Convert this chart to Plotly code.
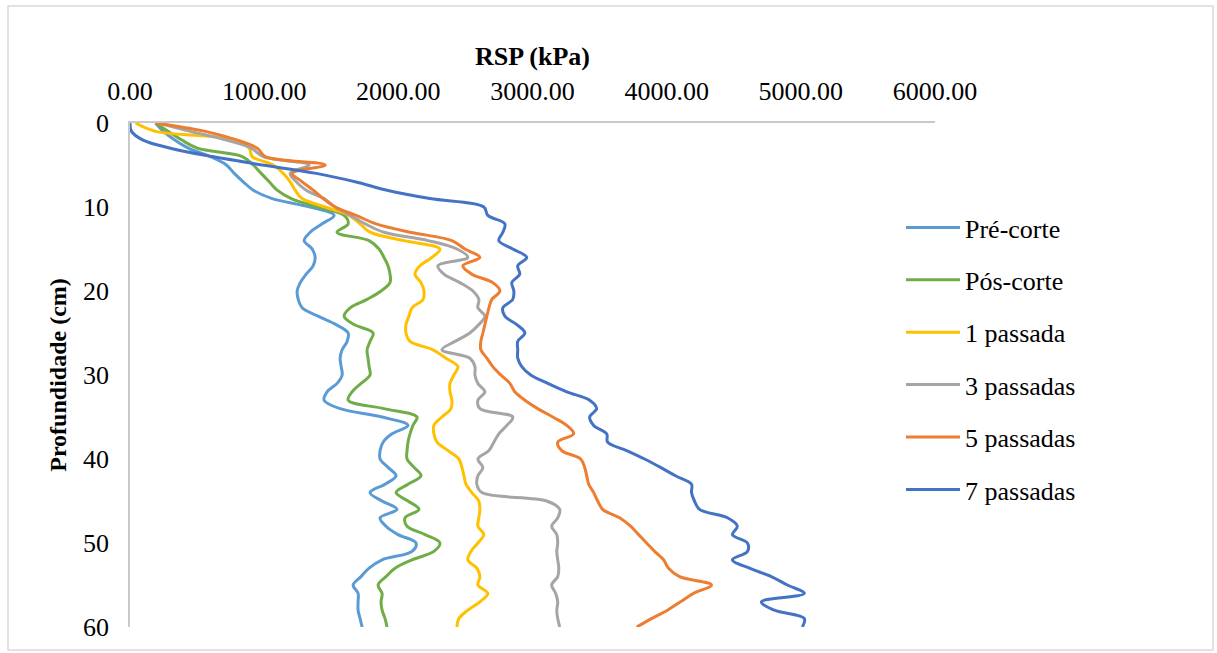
import plotly.graph_objects as go

# Depth of each penetrometer reading (cm)
depth_cm = [0, 1, 2, 3, 4, 5, 6, 7, 8, 9,
            10, 11, 12, 13, 14, 15, 16, 17, 18, 19,
            20, 21, 22, 23, 24, 25, 26, 27, 28, 29,
            30, 31, 32, 33, 34, 35, 36, 37, 38, 39,
            40, 41, 42, 43, 44, 45, 46, 47, 48, 49,
            50, 51, 52, 53, 54, 55, 56, 57, 58, 59,
            60]

# Soil penetration resistance (kPa) for each treatment
pre_corte = [190, 249, 331, 435, 599, 718, 777, 844, 919, 1060,
             1343, 1521, 1432, 1343, 1298, 1358, 1380, 1365, 1313, 1269,
             1246, 1254, 1283, 1402, 1536, 1626, 1618, 1581, 1566, 1574,
             1581, 1544, 1469, 1447, 1566, 1879, 2072, 1953, 1886, 1864,
             1864, 1923, 1983, 1901, 1789, 1879, 1990, 1864, 1908, 1998,
             2132, 2102, 1879, 1782, 1722, 1663, 1700, 1700, 1700, 1715,
             1730]
pos_corte = [190, 286, 383, 502, 837, 919, 978, 1038, 1097, 1202,
             1402, 1596, 1626, 1543, 1782, 1856, 1893, 1923, 1938, 1938,
             1871, 1767, 1641, 1596, 1670, 1812, 1789, 1767, 1774, 1782,
             1789, 1722, 1655, 1626, 1893, 2139, 2109, 2087, 2072, 2065,
             2065, 2117, 2169, 2072, 1983, 2072, 2154, 2050, 2065, 2199,
             2310, 2265, 2102, 1975, 1908, 1849, 1879, 1871, 1879, 1901,
             1916]
passada_1 = [41, 190, 792, 889, 911, 1068, 1142, 1194, 1231, 1283,
             1455, 1633, 1715, 1789, 2042, 2310, 2251, 2161, 2124, 2169,
             2191, 2184, 2102, 2079, 2057, 2057, 2087, 2258, 2355, 2444,
             2414, 2385, 2385, 2399, 2392, 2325, 2265, 2265, 2288, 2370,
             2451, 2474, 2489, 2504, 2548, 2600, 2608, 2600, 2593, 2637,
             2593, 2541, 2518, 2585, 2608, 2593, 2667, 2608, 2518, 2451,
             2437]
passadas_3 = [212, 450, 711, 904, 993, 1335, 1194, 1239, 1313, 1447,
              1529, 1641, 1752, 1893, 2221, 2437, 2518, 2295, 2340, 2459,
              2556, 2600, 2593, 2645, 2600, 2533, 2422, 2325, 2533, 2571,
              2571, 2593, 2645, 2593, 2608, 2853, 2809, 2749, 2712, 2675,
              2593, 2630, 2593, 2585, 2623, 3106, 3203, 3188, 3143, 3181,
              3188, 3181, 3188, 3196, 3188, 3143, 3173, 3188, 3181, 3188,
              3203]
passadas_5 = [190, 562, 792, 949, 1008, 1455, 1209, 1283, 1365, 1440,
              1529, 1685, 1834, 2087, 2399, 2496, 2608, 2481, 2548, 2704,
              2757, 2697, 2675, 2660, 2645, 2630, 2615, 2615, 2660, 2704,
              2764, 2831, 2868, 2943, 3039, 3151, 3255, 3307, 3188, 3218,
              3359, 3389, 3404, 3419, 3456, 3486, 3523, 3649, 3731, 3791,
              3850, 3910, 3977, 4014, 4096, 4334, 4200, 4103, 4006, 3887,
              3776]
passadas_7 = [0, 11, 93, 301, 614, 986, 1388, 1678, 1916, 2236,
              2637, 2667, 2794, 2779, 2749, 2853, 2957, 2890, 2905, 2846,
              2861, 2853, 2779, 2794, 2883, 2943, 2890, 2890, 2890, 2920,
              2987, 3114, 3255, 3426, 3478, 3426, 3456, 3553, 3560, 3701,
              3835, 3954, 4066, 4185, 4185, 4207, 4245, 4453, 4527, 4490,
              4602, 4602, 4490, 4617, 4780, 4899, 5026, 4706, 4803, 5026,
              5011]

series_names = ["Pré-corte", "Pós-corte", "1 passada",
                "3 passadas", "5 passadas", "7 passadas"]
series_values = [pre_corte, pos_corte, passada_1,
                 passadas_3, passadas_5, passadas_7]
series_colors = ["#5B9BD5", "#70AD47", "#FFC000",
                 "#A5A5A5", "#ED7D31", "#4472C4"]

x_ticks = [0, 1000, 2000, 3000, 4000, 5000, 6000]
y_ticks = [0, 10, 20, 30, 40, 50, 60]

W, H = 1217, 653
ML, MR, MT, MB = 130, 282, 123, 26
PW, PH = W - ML - MR, H - MT - MB

FONT = "Liberation Serif"


def px_x(p):
    return (p - ML) / PW


def px_y(p):
    return 1 - (p - MT) / PH


fig = go.Figure()
for i, (name, vals, color) in enumerate(zip(series_names, series_values, series_colors)):
    fig.add_trace(go.Scatter(
        x=vals, y=depth_cm, name=name, mode="lines",
        line=dict(color=color, width=3, shape="spline", smoothing=1.0),
        legendgroup=f"g{i}",
    ))

fig.update_layout(
    width=W, height=H,
    margin=dict(l=ML, r=MR, t=MT, b=MB, autoexpand=False),
    paper_bgcolor="white", plot_bgcolor="white",
    font=dict(family=FONT, size=26, color="black"),
    showlegend=True,
    legend=dict(
        x=px_x(901), y=px_y(204), xanchor="left", yanchor="top",
        font=dict(family=FONT, size=26, color="black"),
        tracegroupgap=15.6, itemwidth=54,
        bgcolor="rgba(0,0,0,0)",
    ),
    xaxis=dict(
        side="top", range=[0, 6000], tickvals=x_ticks, tickformat=".2f",
        showgrid=False, zeroline=False, showline=True,
        linecolor="#C9C9C9", linewidth=1.5, ticks="",
        ticklabelstandoff=11,
        tickfont=dict(family=FONT, size=26),
        title=dict(text="RSP (kPa)", standoff=4,
                   font=dict(family=FONT, size=26, weight="bold")),
    ),
    yaxis=dict(
        range=[60, 0], tickvals=y_ticks,
        showgrid=False, zeroline=False, showline=True,
        linecolor="#C9C9C9", linewidth=1.5, ticks="",
        ticklabelstandoff=14,
        tickfont=dict(family=FONT, size=26),
        title=dict(text="Profundidade (cm)", standoff=10,
                   font=dict(family=FONT, size=24, weight="bold")),
    ),
    shapes=[dict(
        type="rect", xref="paper", yref="paper",
        x0=px_x(8), x1=px_x(1213), y0=px_y(650), y1=px_y(6),
        line=dict(color="#D9D9D9", width=1.5), fillcolor="rgba(0,0,0,0)",
        layer="below",
    )],
)

fig.write_html("out.html")
